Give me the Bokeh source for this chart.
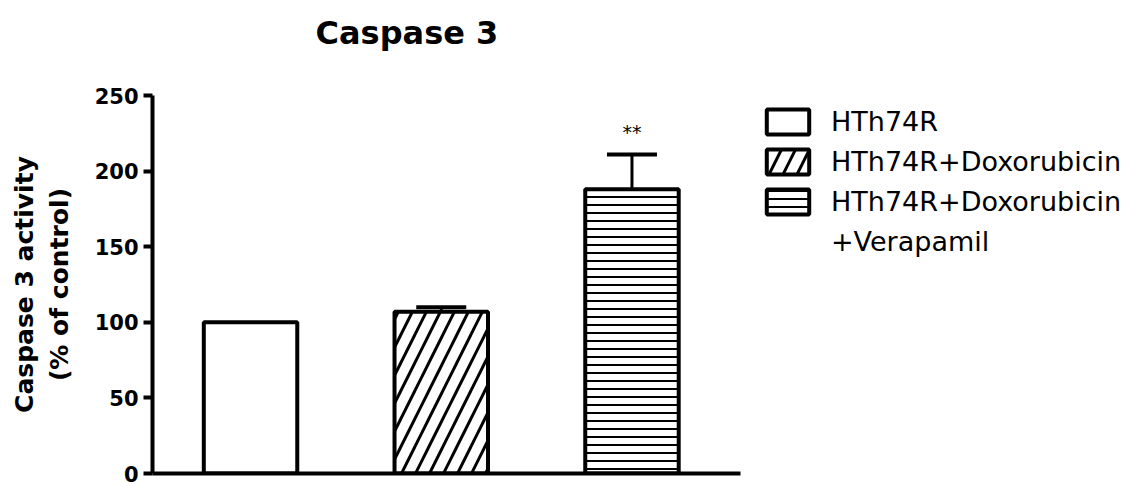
from bokeh.plotting import figure
from bokeh.layouts import row
from bokeh.models import Range1d, FixedTicker, Legend, LegendItem, Whisker, TeeHead, ColumnDataSource
from bokeh.core.properties import value
from bokeh.embed import file_html
from bokeh.resources import INLINE
import numpy as np

# ---- data ----
groups = ["HTh74R", "HTh74R+Doxorubicin", "HTh74R+Doxorubicin\n+Verapamil"]
activity = [100, 107, 188]          # % of control
error_upper = [0, 3, 23]            # SEM (upper)
significance = ["", "", "**"]
yticks = [0, 50, 100, 150, 200, 250]

FONT = "DejaVu Sans"
xs = np.arange(1, len(activity) + 1)

p = figure(width=750, height=482, output_backend="svg", toolbar_location=None,
           x_range=Range1d(0.486, 3.569), y_range=Range1d(0, 250),
           min_border_left=152, min_border_top=95, min_border_bottom=9,
           min_border_right=10, outline_line_color=None)
p.grid.visible = False

styles = [dict(),
          dict(hatch_pattern="right_diagonal_line", hatch_scale=28, hatch_weight=3, hatch_color="black"),
          dict(hatch_pattern="horizontal_line", hatch_scale=8, hatch_weight=2, hatch_color="black")]

sources = []
for i in range(len(activity)):
    src = ColumnDataSource(dict(x=[xs[i]], top=[activity[i]]))
    sources.append(src)
    p.vbar(x="x", top="top", bottom=0, width=0.49, source=src,
           fill_color="white", line_color="black", line_width=4, **styles[i])

# error bars (only where error > 0)
ex = [x for x, e in zip(xs, error_upper) if e > 0]
ev = [v for v, e in zip(activity, error_upper) if e > 0]
eu = [v + e for v, e in zip(activity, error_upper) if e > 0]
esrc = ColumnDataSource(dict(x=ex, lower=ev, upper=eu))
w = Whisker(source=esrc, base="x", lower="lower", upper="upper", dimension="height",
            line_width=3, line_color="black",
            upper_head=TeeHead(size=50, line_width=4, line_color="black"), lower_head=None)
p.add_layout(w)

# significance stars
ssrc = ColumnDataSource(dict(x=xs, y=[v + e for v, e in zip(activity, error_upper)], t=significance))
p.text(x="x", y="y", text="t", source=ssrc, text_align="center", text_baseline="bottom",
       y_offset=-11, text_font_size="19px", text_font=value(FONT), text_color="black")

# axes
p.yaxis.ticker = FixedTicker(ticks=yticks)
p.yaxis.axis_label = "Caspase 3 activity\n(% of control)"
p.yaxis.axis_label_text_font = FONT
p.yaxis.axis_label_text_font_size = "25px"
p.yaxis.axis_label_text_font_style = "bold"
p.yaxis.axis_label_text_color = "black"
p.yaxis.axis_label_standoff = 18
p.yaxis.major_label_text_font = FONT
p.yaxis.major_label_text_font_size = "21px"
p.yaxis.major_label_text_font_style = "bold"
p.yaxis.major_label_text_color = "black"
p.yaxis.axis_line_width = 4
p.yaxis.major_tick_line_width = 4
p.yaxis.major_tick_out = 9
p.yaxis.major_tick_in = 0
p.yaxis.minor_tick_line_color = None
p.yaxis.major_label_standoff = 5

p.xaxis.ticker = FixedTicker(ticks=[])
p.xaxis.axis_line_width = 4
p.xaxis.major_tick_out = 0
p.xaxis.major_tick_in = 0
p.xaxis.major_label_standoff = 0
p.xaxis.minor_tick_line_color = None
p.xaxis.major_label_text_font_size = "0px"

# title (second blank line lifts it away from the frame)
p.title.text = "Caspase 3\n "
p.title.text_font = FONT
p.title.text_font_size = "32px"
p.title.text_font_style = "bold"
p.title.text_color = "black"
p.title.align = "left"
p.title.offset = 163
p.title.vertical_align = "bottom"
p.title.standoff = 12

# legend in its own figure to the right (hidden copies of the bars supply the swatches)
pl = figure(width=379, height=482, output_backend="svg", toolbar_location=None,
            x_range=Range1d(0, 1), y_range=Range1d(0, 1),
            x_axis_type=None, y_axis_type=None, outline_line_color=None,
            min_border_left=0, min_border_right=0, min_border_bottom=0, min_border_top=94)
pl.grid.visible = False
leg_renderers = []
for i in range(len(activity)):
    r = pl.vbar(x="x", top="top", bottom=0, width=0.49, source=sources[i],
                fill_color="white", line_color="black", line_width=4, **styles[i])
    r.visible = False
    leg_renderers.append(r)
blank = pl.vbar(x="x", top="top", width=0.1, source=sources[0], fill_alpha=0, line_alpha=0)
blank.visible = False
labels = ["HTh74R", "HTh74R+Doxorubicin", "HTh74R+Doxorubicin", "+Verapamil"]
items = [LegendItem(label=labels[0], renderers=[leg_renderers[0]]),
         LegendItem(label=labels[1], renderers=[leg_renderers[1]]),
         LegendItem(label=labels[2], renderers=[leg_renderers[2]]),
         LegendItem(label=labels[3], renderers=[blank])]
leg = Legend(items=items, location="top_left", border_line_color=None,
             background_fill_alpha=0, padding=11, margin=11,
             glyph_width=53, glyph_height=31, label_standoff=17, spacing=9,
             label_text_font=FONT, label_text_font_size="27px", label_height=27,
             label_text_color="black", inactive_fill_alpha=0)
pl.add_layout(leg)

open("out.html", "w").write(file_html(row(p, pl), INLINE))
